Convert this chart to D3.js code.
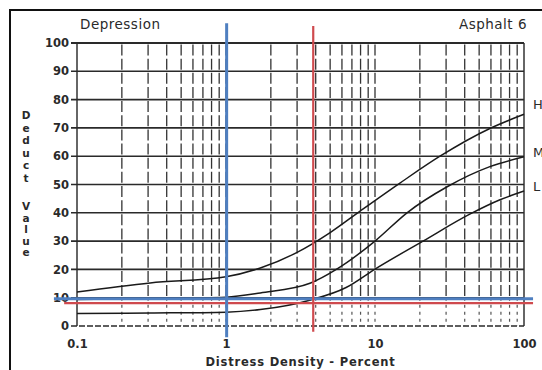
<!DOCTYPE html>
<html>
<head>
<meta charset="utf-8">
<script src="https://cdn.jsdelivr.net/npm/d3@7"></script>
<style>
  body { margin: 0; background: #fff; }
  text { font-family: "DejaVu Sans", "Liberation Sans", Arial, sans-serif; fill: #2a2a2a; }
</style>
</head>
<body>
<div id="chart"></div>
<script>
// data
const xTicks = [0.1, 1, 10, 100];
const yTicks = [0, 10, 20, 30, 40, 50, 60, 70, 80, 90, 100];
const seriesNames = ["H", "M", "L"];
const highDensity = [0.1, 0.31, 1, 1.7, 3, 5, 7.9, 14.7, 27.3, 59, 100];
const highValue   = [12, 15.2, 17.4, 20.5, 26, 33, 40.5, 50.5, 60, 69.8, 74.8];
const medDensity  = [0.1, 0.31, 1, 1.7, 3.7, 5.5, 10, 16.4, 30.5, 59, 100];
const medValue    = [9.4, 9.7, 10.2, 11.7, 15.2, 20, 30, 40, 49.2, 56.3, 59.8];
const lowDensity  = [0.1, 0.31, 1, 1.7, 3.7, 6.4, 10, 21, 43.6, 69, 100];
const lowValue    = [4.4, 4.6, 4.9, 5.8, 9.2, 13.6, 20.1, 30, 39.6, 44.6, 47.7];

// marker lines drawn over the chart (value, extent)
const blueX = 1.01, blueXSpan = [107, -4];
const redX = 3.85, redXSpan = [106, -2];
const blueY = 9.6, blueYSpan = [0.07, 115];
const redY = 8.1, redYSpan = [0.082, 115];

const W = 542, H = 370;
const margin = { top: 43, right: 18, bottom: 44, left: 77 };
const labelNudge = [-5, 0, 0];

const svg = d3.select("#chart")
  .append("svg")
  .attr("width", W)
  .attr("height", H);

// outer frame
svg.append("rect")
  .attr("x", 10).attr("y", 10)
  .attr("width", 545).attr("height", 375)
  .attr("fill", "none")
  .attr("stroke", "#111")
  .attr("stroke-width", 2);

const x = d3.scaleLog()
  .domain([0.1, 100])
  .range([margin.left, W - margin.right]);

const y = d3.scaleLinear()
  .domain([0, 100])
  .range([H - margin.bottom, margin.top]);

// vertical log grid (minor lines dashed, dotted under 10)
const minor = [];
[0.1, 1, 10].forEach(d => { for (let k = 1; k <= 9; k++) minor.push(d * k); });
minor.push(100);
const isEdge = d => d === 0.1 || d === 100;

svg.append("g")
  .selectAll("line")
  .data(minor)
  .enter()
  .append("line")
  .attr("x1", d => x(d)).attr("x2", d => x(d))
  .attr("y1", y(100)).attr("y2", d => isEdge(d) ? y(0) : y(10))
  .attr("stroke", "#333")
  .attr("stroke-width", d => isEdge(d) ? 1.5 : 1.3)
  .attr("stroke-dasharray", d => isEdge(d) ? null : "11,3.15")
  .attr("stroke-dashoffset", -1.5);

svg.append("g")
  .selectAll("line")
  .data(minor.filter(d => !isEdge(d)))
  .enter()
  .append("line")
  .attr("x1", d => x(d)).attr("x2", d => x(d))
  .attr("y1", y(10)).attr("y2", y(0))
  .attr("stroke", "#555")
  .attr("stroke-width", 1.2)
  .attr("stroke-dasharray", "3,4");

// horizontal grid
svg.append("g")
  .selectAll("line")
  .data(yTicks)
  .enter()
  .append("line")
  .attr("x1", x(0.1) - 6).attr("x2", x(100))
  .attr("y1", d => y(d)).attr("y2", d => y(d))
  .attr("stroke", "#2a2a2a")
  .attr("stroke-width", d => d === 100 ? 2 : 1.6)
  .attr("stroke-dasharray", d => d === 0 ? "6,2" : null);

// y axis labels
const yAxis = svg.append("g")
  .attr("transform", `translate(${x(0.1)},0)`)
  .call(d3.axisLeft(y).tickValues(yTicks).tickSize(0).tickPadding(8));
yAxis.select(".domain").remove();
yAxis.selectAll("text")
  .attr("font-family", "DejaVu Sans")
  .attr("font-size", 11.5)
  .attr("font-weight", "bold")
  .attr("fill", "#333");

// x axis labels
const xAxis = svg.append("g")
  .attr("transform", `translate(0,${y(0)})`)
  .call(d3.axisBottom(x).tickValues(xTicks).tickFormat(d3.format("~g")).tickSize(0).tickPadding(14));
xAxis.select(".domain").remove();
xAxis.selectAll("text")
  .attr("font-family", "DejaVu Sans")
  .attr("font-size", 11.5)
  .attr("font-weight", "bold")
  .attr("fill", "#333");

// curves
const series = [
  { name: seriesNames[0], xs: highDensity, ys: highValue },
  { name: seriesNames[1], xs: medDensity, ys: medValue },
  { name: seriesNames[2], xs: lowDensity, ys: lowValue }
];

const line = d3.line()
  .x(d => x(d[0]))
  .y(d => y(d[1]))
  .curve(d3.curveMonotoneX);

svg.append("g")
  .selectAll("path")
  .data(series)
  .enter()
  .append("path")
  .attr("d", s => line(d3.zip(s.xs, s.ys)))
  .attr("fill", "none")
  .attr("stroke", "#1a1a1a")
  .attr("stroke-width", 1.5);

// curve labels at the right
svg.append("g")
  .selectAll("text")
  .data(series)
  .enter()
  .append("text")
  .attr("x", x(100) + 9)
  .attr("y", (s, i) => y(s.ys[s.ys.length - 1]) + labelNudge[i])
  .attr("font-size", 13)
  .text(s => s.name);

// marker lines
svg.append("line")
  .attr("x1", x(blueYSpan[0])).attr("x2", x(blueYSpan[1]))
  .attr("y1", y(blueY)).attr("y2", y(blueY))
  .attr("stroke", "#4f7fc0").attr("stroke-width", 3);
svg.append("line")
  .attr("x1", x(redYSpan[0])).attr("x2", x(redYSpan[1]))
  .attr("y1", y(redY)).attr("y2", y(redY))
  .attr("stroke", "#cf4a4e").attr("stroke-width", 2.2);
svg.append("line")
  .attr("x1", x(blueX)).attr("x2", x(blueX))
  .attr("y1", y(blueXSpan[0])).attr("y2", y(blueXSpan[1]))
  .attr("stroke", "#4f7fc0").attr("stroke-width", 3);
svg.append("line")
  .attr("x1", x(redX)).attr("x2", x(redX))
  .attr("y1", y(redXSpan[0])).attr("y2", y(redXSpan[1]))
  .attr("stroke", "#cf4a4e").attr("stroke-width", 2.2);

// titles
svg.append("text")
  .attr("x", 80).attr("y", 29)
  .attr("font-size", 13.5)
  .attr("letter-spacing", 0.5)
  .text("Depression");

svg.append("text")
  .attr("x", 527).attr("y", 29)
  .attr("text-anchor", "end")
  .attr("font-size", 13.5)
  .attr("letter-spacing", 0.5)
  .text("Asphalt 6");

svg.append("text")
  .attr("x", (x(0.1) + x(100)) / 2).attr("y", 366)
  .attr("text-anchor", "middle")
  .attr("font-size", 11.5)
  .attr("font-weight", "bold")
  .attr("letter-spacing", 0.8)
  .attr("fill", "#333")
  .text("Distress Density - Percent");

// vertical y title, stacked letters
const yTitle = [..."Deduct"].map((c, i) => ({ c, y: 119 + i * 12.5 }))
  .concat([..."Value"].map((c, i) => ({ c, y: 210 + i * 11.5 })));
svg.append("g")
  .selectAll("text")
  .data(yTitle)
  .enter()
  .append("text")
  .attr("x", 26).attr("y", d => d.y)
  .attr("text-anchor", "middle")
  .attr("font-size", 10.5)
  .attr("font-weight", "bold")
  .attr("fill", "#333")
  .text(d => d.c);
</script>
</body>
</html>
